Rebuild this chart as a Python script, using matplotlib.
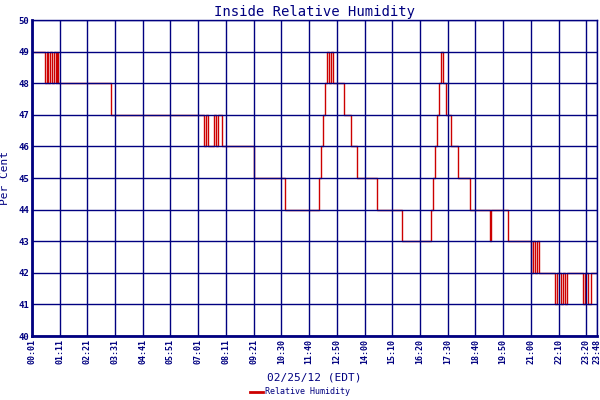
import matplotlib
matplotlib.use("Agg")
import matplotlib.pyplot as plt

# time in minutes since midnight, humidity value (step changes)
times = [1, 34, 39, 41, 46, 51, 56, 61, 64, 67, 72, 200, 437, 442, 447, 460, 465, 470, 480,
         561, 641, 727, 732, 737, 742, 747, 752, 757, 762, 767, 788, 808, 823, 873, 936,
         1009, 1014, 1019, 1024, 1029, 1034, 1039, 1047, 1060, 1077, 1107, 1158, 1160, 1203,
         1261, 1266, 1271, 1276, 1281, 1289, 1322, 1327, 1337, 1342, 1347, 1352, 1362,
         1392, 1397, 1405, 1412, 1428]
values = [49, 48, 49, 48, 49, 48, 49, 48, 49, 48, 48, 47, 46, 47, 46, 47, 46, 47, 46,
          45, 44, 45, 46, 47, 48, 49, 48, 49, 48, 48, 47, 46, 45, 44, 43,
          44, 45, 46, 47, 48, 49, 48, 47, 46, 45, 44, 43, 44, 43,
          42, 43, 42, 43, 42, 42, 41, 42, 41, 42, 41, 42, 42,
          41, 42, 41, 42, 42]
tick_minutes = [1 + 70 * i for i in range(21)] + [1428]
tick_labels = ["00:01", "01:11", "02:21", "03:31", "04:41", "05:51", "07:01", "08:11",
               "09:21", "10:30", "11:40", "12:50", "14:00", "15:10", "16:20", "17:30",
               "18:40", "19:50", "21:00", "22:10", "23:20", "23:48"]
yticks = list(range(40, 51))

navy = "#000080"
red = "#cc0000"
font = dict(family="DejaVu Sans Mono", color=navy)

fig = plt.figure(figsize=(6, 4), dpi=100)
ax = fig.add_axes([0.053, 0.16, 0.942, 0.79])
ax.step(times, values, where="post", color=red, lw=1.0, zorder=2, label="Relative Humidity")
ax.set_xlim(1, 1428)
ax.set_ylim(40, 50)
ax.set_xticks(tick_minutes)
ax.set_xticklabels(tick_labels, rotation=90, fontsize=6, fontweight="bold", **font)
ax.set_yticks(yticks)
ax.set_yticklabels([str(v) for v in yticks], fontsize=6.5, fontweight="bold", **font)
ax.grid(True, color=navy, lw=1, zorder=3)
ax.set_axisbelow(False)
ax.tick_params(length=0, pad=2)
for s in ax.spines.values():
    s.set_color(navy)
    s.set_linewidth(1)
ax.spines["left"].set_linewidth(2)
ax.spines["bottom"].set_linewidth(2)
ax.set_title("Inside Relative Humidity", fontsize=10, pad=3, **font)
ax.set_ylabel("Per Cent", fontsize=8, labelpad=6, **font)
ax.set_xlabel("02/25/12 (EDT)", fontsize=8, labelpad=6, **font)
leg = fig.legend(handles=ax.get_lines(), loc="lower center", bbox_to_anchor=(0.5, -0.01),
                 frameon=False, handlelength=1.5, handletextpad=0.3,
                 prop={"family": "DejaVu Sans Mono", "size": 6})
for t in leg.get_texts():
    t.set_color(navy)
for l in leg.get_lines():
    l.set_linewidth(2)
fig.savefig("out.png", dpi=100)
